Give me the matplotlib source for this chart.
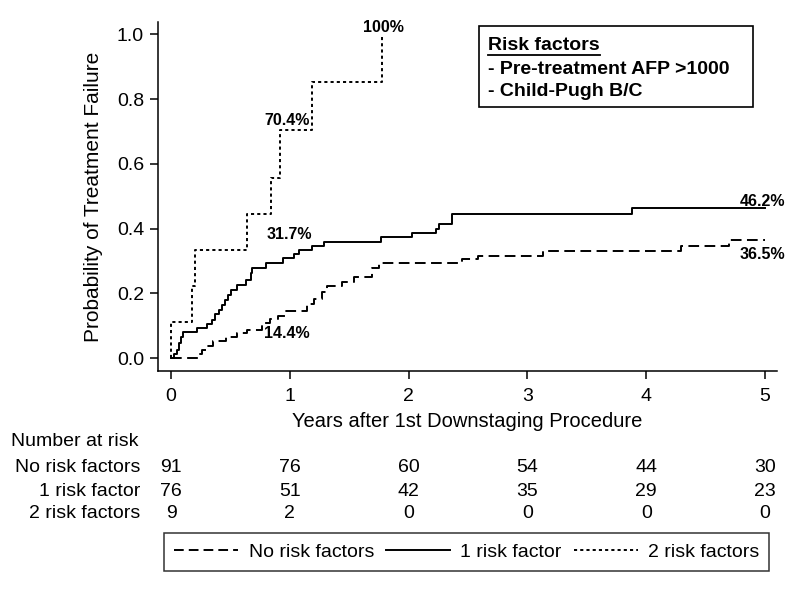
import matplotlib
matplotlib.use("Agg")
import matplotlib.pyplot as plt
from matplotlib.lines import Line2D
from matplotlib.patches import Rectangle
from matplotlib.transforms import blended_transform_factory

plt.rcParams.update({
    "font.family": ["Liberation Sans", "DejaVu Sans"],
    "font.size": 14,
    "axes.linewidth": 1.1,
    "xtick.major.width": 1.1,
    "ytick.major.width": 1.1,
    "xtick.major.size": 6,
    "ytick.major.size": 6,
})

# ── cumulative failure curves ──
T_NONE = [0, 0.23, 0.26, 0.29, 0.357, 0.463, 0.553, 0.637, 0.764, 0.834, 0.896,
          0.96, 1.143, 1.199, 1.27, 1.31, 1.44, 1.54, 1.69, 1.75, 2.45, 2.58,
          3.13, 4.29, 4.70, 5.0]
P_NONE = [0, 0.012, 0.024, 0.036, 0.053, 0.065, 0.076, 0.088, 0.108, 0.121, 0.131,
          0.144, 0.167, 0.182, 0.204, 0.222, 0.236, 0.249, 0.277, 0.294, 0.305, 0.315,
          0.330, 0.346, 0.365, 0.365]

T_ONE = [0, 0.025, 0.048, 0.067, 0.081, 0.10, 0.216, 0.306, 0.348, 0.37, 0.40,
         0.427, 0.455, 0.478, 0.503, 0.559, 0.629, 0.671, 0.685, 0.798, 0.938,
         1.036, 1.078, 1.185, 1.289, 1.767, 2.03, 2.23, 2.258, 2.365, 3.88, 5.0]
P_ONE = [0, 0.013, 0.026, 0.045, 0.065, 0.081, 0.093, 0.105, 0.119, 0.135, 0.148,
         0.164, 0.179, 0.195, 0.21, 0.226, 0.241, 0.262, 0.278, 0.293, 0.309,
         0.322, 0.335, 0.347, 0.36, 0.374, 0.387, 0.398, 0.414, 0.444, 0.462, 0.462]

T_TWO = [0, 0, 0.18, 0.205, 0.64, 0.84, 0.92, 1.19, 1.775]
P_TWO = [0, 0.111, 0.222, 0.333, 0.444, 0.556, 0.704, 0.852, 1.0]

# annotations: (x, y, text)
PCT_LABELS = [
    (1.786, 1.02, "100%"),
    (0.977, 0.733, "70.4%"),
    (0.994, 0.383, "31.7%"),
    (0.977, 0.077, "14.4%"),
    (4.98, 0.485, "46.2%"),
    (4.98, 0.321, "36.5%"),
]

# number at risk table
RISK_TIMES = [0, 1, 2, 3, 4, 5]
RISK_GROUPS = ["No risk factors", "1 risk factor", "2 risk factors"]
AT_RISK = [
    [91, 76, 60, 54, 44, 30],
    [76, 51, 42, 35, 29, 23],
    [9, 2, 0, 0, 0, 0],
]
YTICKS = [0, 0.2, 0.4, 0.6, 0.8, 1.0]

DASHED = (0, (5.5, 2.8))
DOTTED = (0, (1.6, 1.6))
LW = 1.4

fig = plt.figure(figsize=(8, 6), dpi=100)
ax = fig.add_axes([158 / 800, 1 - 371 / 600, (777 - 158) / 800, (371 - 22) / 600])

ax.step(T_NONE, P_NONE, where="post", color="black", lw=LW, linestyle=DASHED)
ax.step(T_ONE, P_ONE, where="post", color="black", lw=LW, linestyle="-")
ax.step(T_TWO, P_TWO, where="post", color="black", lw=LW, linestyle=DOTTED)

ax.set_xlim(-0.11, 5.1)
ax.set_ylim(-0.04, 1.038)
ax.set_xticks(RISK_TIMES)
ax.set_yticks(YTICKS)
ax.set_yticklabels([f"{v:.1f}" for v in YTICKS])
ax.tick_params(axis="y", pad=4)
ax.tick_params(axis="x", pad=6)
for side in ("top", "right"):
    ax.spines[side].set_visible(False)
ax.set_xlabel("Years after 1st Downstaging Procedure", fontsize=14.5, labelpad=5)
ax.set_ylabel("Probability of Treatment Failure", fontsize=15, labelpad=10)

for x, y, s in PCT_LABELS:
    ax.text(x, y, s, ha="center", va="center", fontsize=11.5, fontweight="bold")

# risk factor box
fig.patches.append(Rectangle((479 / 800, 1 - 107 / 600), (753 - 479) / 800, (107 - 26) / 600,
                             transform=fig.transFigure, fill=False, edgecolor="black", lw=1.2))
title = fig.text(488 / 800, 1 - 45 / 600, "Risk factors", ha="left", va="center",
                 fontsize=14, fontweight="bold")
fig.text(488 / 800, 1 - 69 / 600, "- Pre-treatment AFP >1000", ha="left", va="center",
         fontsize=14, fontweight="bold")
fig.text(488 / 800, 1 - 92 / 600, "- Child-Pugh B/C", ha="left", va="center",
         fontsize=14, fontweight="bold")

# number at risk
trans = blended_transform_factory(ax.transData, fig.transFigure)
fig.text(11 / 800, 1 - 441 / 600, "Number at risk", ha="left", va="center")
row_y = [467, 491, 514]
for label, counts, yy in zip(RISK_GROUPS, AT_RISK, row_y):
    fig.text(140 / 800, 1 - yy / 600, label, ha="right", va="center")
    for t, n in zip(RISK_TIMES, counts):
        ax.text(t, 1 - yy / 600, str(n), transform=trans, ha="center", va="center")

handles = [
    Line2D([], [], color="black", lw=LW, linestyle=(0, (5.0, 2.6)), label="No risk factors"),
    Line2D([], [], color="black", lw=LW, linestyle="-", label="1 risk factor"),
    Line2D([], [], color="black", lw=LW, linestyle=DOTTED, label="2 risk factors"),
]
leg = fig.legend(handles=handles, loc="center left", bbox_to_anchor=(164 / 800, 1 - 552 / 600),
                 ncol=3, frameon=True, fancybox=False, edgecolor="black",
                 handlelength=3.3, handletextpad=0.55, columnspacing=0.6,
                 borderpad=0.5, borderaxespad=0, fontsize=14)
leg.get_frame().set_linewidth(1.1)

# underline the box title
fig.canvas.draw()
bb = title.get_window_extent(fig.canvas.get_renderer())
inv = fig.transFigure.inverted()
(x0, y0), (x1, _) = inv.transform([(bb.x0, bb.y0 - 1), (bb.x1, bb.y0 - 1)])
fig.lines.append(Line2D([x0, x1], [y0, y0], transform=fig.transFigure, color="black", lw=1.3))

fig.savefig("out.png", dpi=100)
